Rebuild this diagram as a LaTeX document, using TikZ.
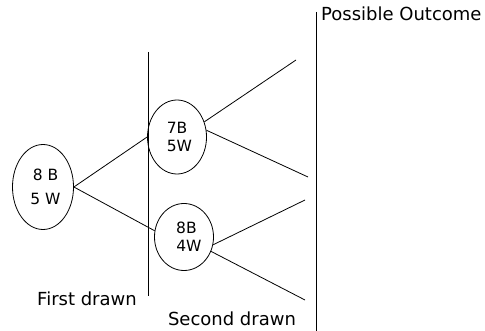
\documentclass[tikz,border=0pt]{standalone}
\usepackage{fontspec}
\setmainfont{DejaVu Sans}
\usepackage{tikz}
\usetikzlibrary{shapes.geometric}
\tikzset{urn/.style={ellipse,draw=black,line width=0.8pt,inner sep=0pt,align=center,font=\fontsize{15.5}{18}\selectfont}, txt/.style={font=\fontsize{18}{20}\selectfont,inner sep=0pt}, branch/.style={draw=black,line width=0.8pt}}

\begin{document}
\begin{tikzpicture}[x=1pt,y=-1pt]
\useasboundingbox (0,0) rectangle (485,331);
\coordinate (fa) at (148,52);
\coordinate (fb) at (148,296);
\coordinate (sa) at (316,12);
\coordinate (sb) at (316,331);
\coordinate (oa) at (296,60);
\coordinate (ob) at (308,177);
\coordinate (oc) at (305,200);
\coordinate (od) at (305,300);
\node[urn,minimum width=61pt,minimum height=85pt,font=\fontsize{15.5}{24}\selectfont] (ua) at (43,187) {\ 8 B\\\ 5 W};
\node[urn,minimum width=59pt,minimum height=74pt] (ub) at (177,137) {7B\\\ 5W};
\node[urn,minimum width=59pt,minimum height=67pt] (uc) at (184,237) {\ 8B\\\ \ 4W};
\draw[branch] (fa)--(fb);
\draw[branch] (sa)--(sb);
\draw[branch] (ua.east)--(ub.west);
\draw[branch] (ua.east)--(uc.168);
\draw[branch] (ub.29)--(oa);
\draw[branch] (ub.13)--(ob);
\draw[branch] (uc.-15)--(oc);
\draw[branch] (uc.-28)--(od);
\node[txt,anchor=base west] (po) at (321,21) {Possible Outcome};
\node[txt,anchor=base] (fd) at (87,306) {First drawn};
\node[txt,anchor=base] (sd) at (232,326) {Second drawn};
\end{tikzpicture}
\end{document}
